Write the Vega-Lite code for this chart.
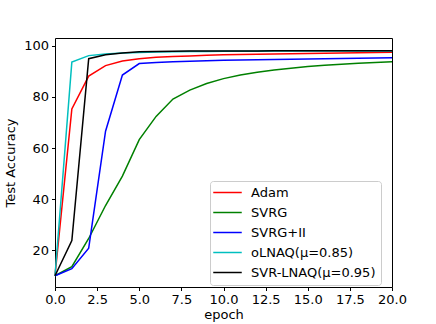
{
  "$schema": "https://vega.github.io/schema/vega-lite/v6.json",
  "width": 337,
  "height": 249,
  "autosize": "none",
  "padding": {"left": 55, "top": 38, "right": 44, "bottom": 37},
  "background": "white",
  "config": {
    "font": "DejaVu Sans",
    "view": {"stroke": "black", "strokeWidth": 1},
    "axis": {"grid": false, "domain": false, "tickColor": "black", "tickSize": 3.5, "labelColor": "black", "labelFontSize": 13, "titleFontSize": 13, "titleFontWeight": "normal", "titleColor": "black", "labelPadding": 3, "labelOverlap": false, "labelFlush": false}
  },
  "data": {"values": [
    {"e":0,"s":"Adam","v":10},{"e":1,"s":"Adam","v":75.3},{"e":2,"s":"Adam","v":88.2},{"e":3,"s":"Adam","v":92.3},{"e":4,"s":"Adam","v":94.1},{"e":5,"s":"Adam","v":95},{"e":6,"s":"Adam","v":95.6},{"e":7,"s":"Adam","v":95.9},{"e":8,"s":"Adam","v":96.1},{"e":9,"s":"Adam","v":96.3},{"e":10,"s":"Adam","v":96.5},{"e":11,"s":"Adam","v":96.6},{"e":12,"s":"Adam","v":96.7},{"e":13,"s":"Adam","v":96.8},{"e":14,"s":"Adam","v":96.9},{"e":15,"s":"Adam","v":97},{"e":16,"s":"Adam","v":97.1},{"e":17,"s":"Adam","v":97.2},{"e":18,"s":"Adam","v":97.3},{"e":19,"s":"Adam","v":97.4},{"e":20,"s":"Adam","v":97.5},
    {"e":0,"s":"SVRG","v":10},{"e":1,"s":"SVRG","v":13.6},{"e":2,"s":"SVRG","v":24.6},{"e":3,"s":"SVRG","v":37.5},{"e":4,"s":"SVRG","v":49},{"e":5,"s":"SVRG","v":63.3},{"e":6,"s":"SVRG","v":72.4},{"e":7,"s":"SVRG","v":79.2},{"e":8,"s":"SVRG","v":82.7},{"e":9,"s":"SVRG","v":85.3},{"e":10,"s":"SVRG","v":87.2},{"e":11,"s":"SVRG","v":88.6},{"e":12,"s":"SVRG","v":89.7},{"e":13,"s":"SVRG","v":90.6},{"e":14,"s":"SVRG","v":91.3},{"e":15,"s":"SVRG","v":91.9},{"e":16,"s":"SVRG","v":92.4},{"e":17,"s":"SVRG","v":92.8},{"e":18,"s":"SVRG","v":93.2},{"e":19,"s":"SVRG","v":93.5},{"e":20,"s":"SVRG","v":93.8},
    {"e":0,"s":"SVRG+II","v":10},{"e":1,"s":"SVRG+II","v":12.8},{"e":2,"s":"SVRG+II","v":20.8},{"e":3,"s":"SVRG+II","v":66.6},{"e":4,"s":"SVRG+II","v":88.6},{"e":5,"s":"SVRG+II","v":93.1},{"e":6,"s":"SVRG+II","v":93.5},{"e":7,"s":"SVRG+II","v":93.8},{"e":8,"s":"SVRG+II","v":94},{"e":9,"s":"SVRG+II","v":94.2},{"e":10,"s":"SVRG+II","v":94.4},{"e":11,"s":"SVRG+II","v":94.5},{"e":12,"s":"SVRG+II","v":94.6},{"e":13,"s":"SVRG+II","v":94.7},{"e":14,"s":"SVRG+II","v":94.8},{"e":15,"s":"SVRG+II","v":94.9},{"e":16,"s":"SVRG+II","v":95},{"e":17,"s":"SVRG+II","v":95.1},{"e":18,"s":"SVRG+II","v":95.2},{"e":19,"s":"SVRG+II","v":95.3},{"e":20,"s":"SVRG+II","v":95.4},
    {"e":0,"s":"oLNAQ(μ=0.85)","v":10},{"e":1,"s":"oLNAQ(μ=0.85)","v":93.7},{"e":2,"s":"oLNAQ(μ=0.85)","v":96.2},{"e":3,"s":"oLNAQ(μ=0.85)","v":96.8},{"e":4,"s":"oLNAQ(μ=0.85)","v":97.2},{"e":5,"s":"oLNAQ(μ=0.85)","v":97.4},{"e":6,"s":"oLNAQ(μ=0.85)","v":97.6},{"e":7,"s":"oLNAQ(μ=0.85)","v":97.7},{"e":8,"s":"oLNAQ(μ=0.85)","v":97.8},{"e":9,"s":"oLNAQ(μ=0.85)","v":97.8},{"e":10,"s":"oLNAQ(μ=0.85)","v":97.9},{"e":11,"s":"oLNAQ(μ=0.85)","v":97.9},{"e":12,"s":"oLNAQ(μ=0.85)","v":97.9},{"e":13,"s":"oLNAQ(μ=0.85)","v":98},{"e":14,"s":"oLNAQ(μ=0.85)","v":98},{"e":15,"s":"oLNAQ(μ=0.85)","v":98},{"e":16,"s":"oLNAQ(μ=0.85)","v":98},{"e":17,"s":"oLNAQ(μ=0.85)","v":98},{"e":18,"s":"oLNAQ(μ=0.85)","v":98},{"e":19,"s":"oLNAQ(μ=0.85)","v":98},{"e":20,"s":"oLNAQ(μ=0.85)","v":98},
    {"e":0,"s":"SVR-LNAQ(μ=0.95)","v":10},{"e":1,"s":"SVR-LNAQ(μ=0.95)","v":23.8},{"e":2,"s":"SVR-LNAQ(μ=0.95)","v":95},{"e":3,"s":"SVR-LNAQ(μ=0.95)","v":96.5},{"e":4,"s":"SVR-LNAQ(μ=0.95)","v":97.2},{"e":5,"s":"SVR-LNAQ(μ=0.95)","v":97.7},{"e":6,"s":"SVR-LNAQ(μ=0.95)","v":97.8},{"e":7,"s":"SVR-LNAQ(μ=0.95)","v":97.9},{"e":8,"s":"SVR-LNAQ(μ=0.95)","v":98},{"e":9,"s":"SVR-LNAQ(μ=0.95)","v":98},{"e":10,"s":"SVR-LNAQ(μ=0.95)","v":98},{"e":11,"s":"SVR-LNAQ(μ=0.95)","v":98},{"e":12,"s":"SVR-LNAQ(μ=0.95)","v":98},{"e":13,"s":"SVR-LNAQ(μ=0.95)","v":98.1},{"e":14,"s":"SVR-LNAQ(μ=0.95)","v":98.1},{"e":15,"s":"SVR-LNAQ(μ=0.95)","v":98.1},{"e":16,"s":"SVR-LNAQ(μ=0.95)","v":98.1},{"e":17,"s":"SVR-LNAQ(μ=0.95)","v":98.1},{"e":18,"s":"SVR-LNAQ(μ=0.95)","v":98.1},{"e":19,"s":"SVR-LNAQ(μ=0.95)","v":98.1},{"e":20,"s":"SVR-LNAQ(μ=0.95)","v":98.1}
  ]},
  "mark": {"type": "line", "strokeWidth": 1.5},
  "encoding": {
    "x": {"field": "e", "type": "quantitative", "title": "epoch", "scale": {"domain": [0, 20], "nice": false}, "axis": {"values": [0, 2.5, 5, 7.5, 10, 12.5, 15, 17.5, 20], "format": ".1f", "titlePadding": 2}},
    "y": {"field": "v", "type": "quantitative", "title": "Test Accuracy", "scale": {"domain": [5.6, 103.1], "nice": false, "zero": false}, "axis": {"values": [20, 40, 60, 80, 100], "titlePadding": 6}},
    "color": {"field": "s", "type": "nominal", "sort": null,
      "scale": {"domain": ["Adam", "SVRG", "SVRG+II", "oLNAQ(μ=0.85)", "SVR-LNAQ(μ=0.95)"], "range": ["#ff0000", "#008000", "#0000ff", "#00bfbf", "#000000"]},
      "legend": {"title": null, "orient": "none", "legendX": 155, "legendY": 143, "symbolType": "M-2.85,0H2.85", "symbolSize": 100, "symbolOffset": 6, "symbolStrokeWidth": 1.5, "labelFontSize": 13, "labelColor": "black", "rowPadding": 6, "padding": 5, "strokeColor": "#cccccc", "fillColor": "white", "cornerRadius": 3, "labelOffset": 17}},
    "order": {"field": "e"}
  }
}
